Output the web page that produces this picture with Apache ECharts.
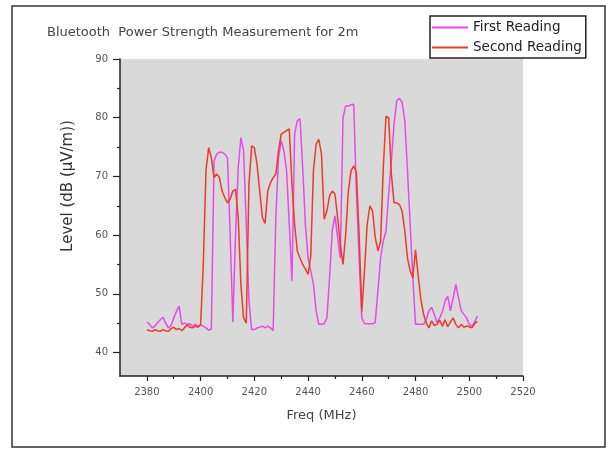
<!DOCTYPE html>
<html>
<head>
<meta charset="utf-8">
<script src="https://cdn.jsdelivr.net/npm/echarts@6/dist/echarts.min.js"></script>
<style>
  body { margin: 0; background: #fff; }
  #chart { width: 609px; height: 450px; }
</style>
</head>
<body>
<div id="chart"></div>
<script>
  // frequency samples (MHz)
  var freq = [2380, 2381, 2382, 2383, 2384, 2385, 2386, 2387, 2388, 2389,
    2390, 2391, 2392, 2393, 2394, 2395, 2396, 2397, 2398, 2399,
    2400, 2401, 2402, 2403, 2404, 2405, 2406, 2407, 2408, 2409,
    2410, 2411, 2412, 2413, 2414, 2415, 2416, 2417, 2418, 2419,
    2420, 2421, 2422, 2423, 2424, 2425, 2426, 2427, 2428, 2429,
    2430, 2431, 2432, 2433, 2434, 2435, 2436, 2437, 2438, 2439,
    2440, 2441, 2442, 2443, 2444, 2445, 2446, 2447, 2448, 2449,
    2450, 2451, 2452, 2453, 2454, 2455, 2456, 2457, 2458, 2459,
    2460, 2461, 2462, 2463, 2464, 2465, 2466, 2467, 2468, 2469,
    2470, 2471, 2472, 2473, 2474, 2475, 2476, 2477, 2478, 2479,
    2480, 2481, 2482, 2483, 2484, 2485, 2486, 2487, 2488, 2489,
    2490, 2491, 2492, 2493, 2494, 2495, 2496, 2497, 2498, 2499,
    2500, 2501, 2502, 2503]

  var firstReading = [45.2, 44.8, 44.2, 44.5, 45.1, 45.6, 46.0, 45.0, 44.2, 44.6,
    45.9, 47.0, 47.9, 44.8, 45.0, 44.8, 44.9, 44.5, 44.8, 44.5,
    44.7, 44.5, 44.2, 43.8, 44.0, 72.6, 73.8, 74.1, 74.1, 73.8,
    73.2, 60.0, 45.2, 60.0, 71.5, 76.6, 74.4, 61.8, 48.8, 43.9,
    43.9, 44.2, 44.3, 44.5, 44.2, 44.5, 44.2, 43.7, 63.0, 73.2,
    76.1, 74.4, 71.0, 61.8, 52.2, 77.2, 79.5, 79.8, 71.5, 61.8,
    56.1, 53.9, 51.6, 47.1, 44.8, 44.8, 44.9, 45.9, 52.7, 60.7,
    63.3, 59.6, 56.1, 80.0, 82.0, 82.0, 82.2, 82.3, 67.0, 56.1,
    45.9, 44.9, 44.9, 44.9, 44.9, 45.1, 50.5, 56.1, 59.0, 60.7,
    67.0, 72.6, 78.9, 82.9, 83.3, 82.6, 79.5, 71.0, 61.8, 52.7,
    44.8, 44.8, 44.8, 44.8, 45.6, 47.1, 47.7, 46.5, 45.1, 45.9,
    47.0, 48.8, 49.6, 47.1, 49.3, 51.6, 49.3, 47.1, 46.5, 45.9,
    44.8, 44.5, 45.2, 46.2]

  var secondReading = [43.9, 43.7, 43.6, 43.9, 43.7, 43.6, 43.9, 43.7, 43.6, 44.1,
    44.3, 43.9, 44.1, 43.7, 44.2, 44.7, 44.3, 44.2, 44.5, 44.3,
    44.7, 55.0, 71.0, 74.9, 73.2, 69.8, 70.4, 69.8, 67.5, 66.4,
    65.5, 66.1, 67.5, 67.8, 63.0, 51.6, 45.9, 45.0, 68.7, 75.2,
    74.9, 72.1, 67.5, 63.0, 62.0, 67.5, 68.9, 69.8, 70.4, 74.4,
    77.2, 77.5, 77.8, 78.1, 68.7, 61.8, 57.3, 56.1, 55.0, 54.2,
    53.3, 56.4, 71.0, 75.5, 76.3, 73.8, 62.7, 64.1, 66.7, 67.5,
    67.0, 63.0, 58.4, 55.0, 60.1, 67.5, 71.0, 71.8, 70.7, 60.1,
    47.0, 53.9, 61.8, 65.0, 64.1, 59.6, 57.3, 59.0, 71.5, 80.2,
    80.0, 70.4, 65.5, 65.5, 65.2, 64.1, 60.7, 56.1, 53.9, 52.7,
    57.5, 53.0, 49.0, 46.5, 45.0, 44.2, 45.4, 44.6, 44.8, 45.5,
    44.5, 45.6, 44.4, 45.2, 45.9, 44.8, 44.2, 44.8, 44.3, 44.5,
    44.4, 44.2, 44.9, 45.3]

  // tick labels / tick positions
  var xLabels = [2380, 2400, 2420, 2440, 2460, 2480, 2500, 2520]
  var xMinorTicks = [2390, 2410, 2430, 2450, 2470, 2490, 2510]
  var yLabels = [40, 50, 60, 70, 80, 90]
  var yMinorTicks = [45, 55, 65, 75, 85]

  var font = 'DejaVu Sans, Arial, sans-serif'
  var axisColor = '#222'

  var myChart = echarts.init(document.getElementById('chart'))
  var option = {
    animation: false,
    backgroundColor: '#fff',
    title: {
      text: 'Bluetooth  Power Strength Measurement for 2m',
      left: 47,
      top: 26,
      padding: 0,
      textStyle: {fontSize: 13, fontWeight: 'normal', color: '#444', fontFamily: font}
    },
    legend: {
      orient: 'vertical',
      left: 430,
      top: 16,
      padding: [4, 4, 3, 2],
      itemGap: 5,
      itemWidth: 36,
      itemHeight: 2,
      icon: 'rect',
      borderColor: '#222',
      borderWidth: 1.5,
      backgroundColor: '#fff',
      textStyle: {fontSize: 13.5, color: '#222', fontFamily: font, lineHeight: 15},
      data: ['First Reading', 'Second Reading']
    },
    grid: {
      left: 120,
      right: 86,
      top: 59,
      bottom: 74,
      show: true,
      backgroundColor: '#d9d9d9',
      borderWidth: 0
    },
    xAxis: [{
      type: 'value',
      position: 'bottom',
      min: 2370,
      max: 2520,
      name: 'Freq (MHz)',
      nameLocation: 'middle',
      nameGap: 33,
      nameTextStyle: {fontSize: 13, color: '#444', fontFamily: font},
      axisLine: {lineStyle: {color: axisColor, width: 1.5}},
      axisTick: {customValues: xLabels, length: 5, lineStyle: {color: axisColor, width: 1.2}},
      axisLabel: {
        customValues: xLabels, margin: 11, fontSize: 10, color: '#555', fontFamily: font,
        formatter: function (v) { return String(v) }
      },
      splitLine: {show: false}
    }, {
      type: 'value',
      position: 'bottom',
      offset: 0,
      min: 2370,
      max: 2520,
      axisLine: {show: false},
      axisTick: {customValues: xMinorTicks, length: 3, lineStyle: {color: axisColor, width: 1.2}},
      axisLabel: {show: false},
      splitLine: {show: false}
    }],
    yAxis: [{
      type: 'value',
      position: 'left',
      min: 36,
      max: 90,
      axisLine: {show: true, lineStyle: {color: axisColor, width: 1.5}},
      axisTick: {show: true, customValues: yLabels, length: 7, lineStyle: {color: axisColor, width: 1.2}},
      axisLabel: {customValues: yLabels, margin: 12, fontSize: 10, color: '#555', fontFamily: font},
      splitLine: {show: false}
    }, {
      type: 'value',
      position: 'left',
      offset: 0,
      min: 36,
      max: 90,
      axisLine: {show: false},
      axisTick: {show: true, customValues: yMinorTicks, length: 3, lineStyle: {color: axisColor, width: 1.2}},
      axisLabel: {show: false},
      splitLine: {show: false}
    }],
    graphic: [{
      type: 'rect',
      shape: {x: 12, y: 6, width: 593, height: 441},
      style: {fill: null, stroke: '#333', lineWidth: 1.5},
      silent: true
    }, {
      type: 'text',
      x: 68,
      y: 186,
      rotation: Math.PI / 2,
      style: {
        text: 'Level (dB (µV/m))',
        fontSize: 15,
        fill: '#333',
        fontFamily: font,
        textAlign: 'center',
        textVerticalAlign: 'middle'
      }
    }],
    series: [{
      name: 'First Reading',
      type: 'line',
      xAxisIndex: 0,
      yAxisIndex: 0,
      showSymbol: false,
      symbol: 'none',
      lineStyle: {color: '#e84ae8', width: 1.5},
      itemStyle: {color: '#e84ae8'},
      data: freq.map(function (f, i) { return [f, firstReading[i]] })
    }, {
      name: 'Second Reading',
      type: 'line',
      xAxisIndex: 0,
      yAxisIndex: 0,
      showSymbol: false,
      symbol: 'none',
      lineStyle: {color: '#ec3a2c', width: 1.5},
      itemStyle: {color: '#ec3a2c'},
      data: freq.map(function (f, i) { return [f, secondReading[i]] })
    }]
  }
  myChart.setOption(option)
</script>
</body>
</html>
